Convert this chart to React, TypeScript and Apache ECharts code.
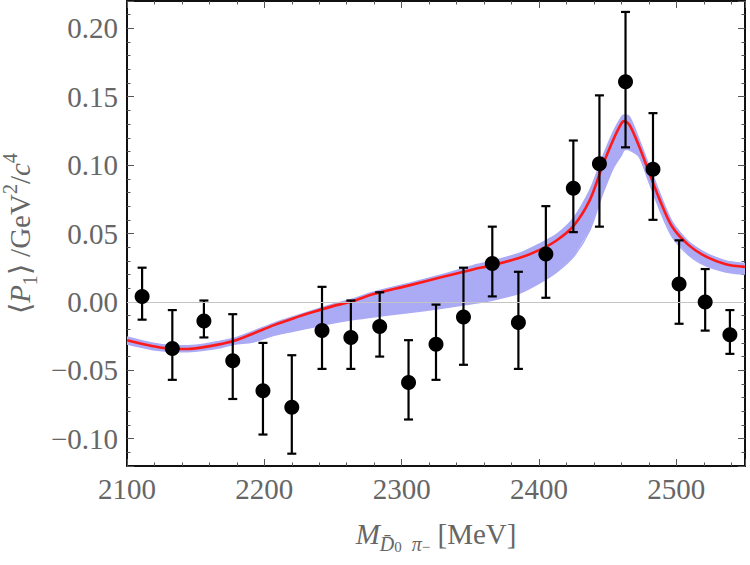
import React, { useEffect, useRef } from "react";
import * as echarts from "echarts";

// Data points (M in MeV, <P1>)
const pointX = [2111, 2133, 2156, 2177, 2199, 2220, 2242, 2263, 2284, 2305, 2325, 2345, 2366, 2385, 2405, 2425, 2444, 2463, 2483, 2502, 2521, 2539];
const pointY = [0.004, -0.034, -0.014, -0.043, -0.065, -0.077, -0.021, -0.026, -0.018, -0.059, -0.031, -0.011, 0.028, -0.015, 0.035, 0.083, 0.101, 0.161, 0.097, 0.013, 0.0, -0.024];
const errLow = [-0.013, -0.057, -0.026, -0.071, -0.097, -0.111, -0.049, -0.049, -0.040, -0.086, -0.057, -0.046, 0.004, -0.049, 0.003, 0.051, 0.055, 0.113, 0.060, -0.016, -0.021, -0.038];
const errHigh = [0.025, -0.006, 0.001, -0.009, -0.030, -0.039, 0.011, 0.001, 0.007, -0.028, -0.002, 0.025, 0.055, 0.022, 0.070, 0.118, 0.151, 0.212, 0.138, 0.045, 0.024, -0.006];

// Fit curve and its uncertainty band
const curveX = [2100, 2119, 2134, 2144, 2156, 2168, 2178, 2192, 2207, 2221, 2236, 2250, 2265, 2279, 2304, 2328, 2352, 2366, 2386, 2400, 2413, 2425, 2437, 2446, 2454, 2460, 2462, 2466, 2473, 2480, 2488, 2497, 2509, 2522, 2536, 2550];
const curveY = [-0.028, -0.0324, -0.0344, -0.0344, -0.0331, -0.0309, -0.0285, -0.0231, -0.017, -0.0121, -0.0073, -0.0031, 0.0007, 0.0056, 0.0117, 0.0178, 0.0237, 0.0268, 0.0322, 0.0378, 0.0451, 0.0554, 0.0744, 0.0988, 0.1183, 0.1305, 0.1322, 0.1293, 0.1134, 0.0951, 0.0744, 0.0549, 0.0415, 0.0329, 0.0276, 0.0256];
const bandLow = [-0.0309, -0.035, -0.0364, -0.0364, -0.0353, -0.0335, -0.0309, -0.0293, -0.0244, -0.0214, -0.0183, -0.0154, -0.0129, -0.011, -0.008, -0.0048, -0.0012, 0.0012, 0.0064, 0.0135, 0.0219, 0.0329, 0.0525, 0.0781, 0.0978, 0.1073, 0.111, 0.111, 0.1061, 0.0878, 0.0671, 0.0475, 0.0342, 0.0261, 0.0219, 0.0203];
const bandHigh = [-0.0256, -0.0302, -0.032, -0.032, -0.0309, -0.0287, -0.0266, -0.0214, -0.0155, -0.0108, -0.0061, -0.0017, 0.0023, 0.0071, 0.0133, 0.0195, 0.0265, 0.0298, 0.0356, 0.0422, 0.0495, 0.061, 0.0817, 0.1051, 0.1241, 0.1351, 0.1366, 0.1351, 0.1183, 0.1, 0.0793, 0.0585, 0.0439, 0.0354, 0.03, 0.0281];

const X_MIN = 2100;
const X_MAX = 2550;
const Y_MIN = -0.12;
const Y_MAX = 0.22;

const FONT = "Liberation Serif";
const GREY = "#666666";

const richBase = {
  a: { fontFamily: FONT, fontSize: 29, color: GREY, lineHeight: 40 },
  i: { fontFamily: FONT, fontSize: 29, color: GREY, lineHeight: 40, fontStyle: "italic" },
  sub: { fontFamily: FONT, fontSize: 20, color: GREY, lineHeight: 20, verticalAlign: "bottom" },
  subi: { fontFamily: FONT, fontSize: 20, color: GREY, lineHeight: 20, verticalAlign: "bottom", fontStyle: "italic" },
  subsup: { fontFamily: FONT, fontSize: 15, color: GREY, lineHeight: 36, verticalAlign: "bottom" },
  sup: { fontFamily: FONT, fontSize: 20, color: GREY, lineHeight: 26, verticalAlign: "top" },
};

function fmtY(v: number) {
  const s = Math.abs(v).toFixed(2);
  return v < -1e-9 ? "\u2212" + s : s;
}

export default function App() {
  const ref = useRef<HTMLDivElement>(null);
  useEffect(() => {
    if (!ref.current) return;
    const chart = echarts.init(ref.current, undefined, { renderer: "svg" });

    const tickCommon = {
      axisTick: { show: true, inside: true, length: 7, lineStyle: { color: "#555", width: 1 } },
      minorTick: { show: true, splitNumber: 5, length: 3.5, lineStyle: { color: "#555", width: 1 } },
      splitLine: { show: false },
      minorSplitLine: { show: false },
      axisLine: { show: true, onZero: false, lineStyle: { color: "#111", width: 2 } },
    };

    const curveData = curveX.map((x, i) => [x, curveY[i]]);
    const pts = pointX.map((x, i) => [x, pointY[i]]);
    const errs = pointX.map((x, i) => [x, errLow[i], errHigh[i]]);

    chart.setOption({
      animation: false,
      grid: { left: 127, right: 5, top: 1, bottom: 99, containLabel: false, outerBoundsMode: "none" },
      xAxis: [
        {
          type: "value",
          min: X_MIN,
          max: X_MAX,
          interval: 100,
          position: "bottom",
          ...tickCommon,
          axisLabel: {
            show: true,
            margin: 8,
            fontFamily: FONT,
            fontSize: 29,
            color: GREY,
            showMaxLabel: false,
            formatter: (v: number) => String(v),
          },
          name: "{i|M}{subi|D\u0304}{subsup|0}{sub|  }{subi|\u03C0}{subsup|\u2212}{a| [MeV]}",
          nameLocation: "middle",
          nameGap: 48,
          nameTextStyle: { rich: richBase },
        },
        {
          type: "value",
          min: X_MIN,
          max: X_MAX,
          interval: 100,
          position: "top",
          ...tickCommon,
          axisLabel: { show: false },
        },
      ],
      yAxis: [
        {
          type: "value",
          min: Y_MIN,
          max: Y_MAX,
          splitNumber: 6,
          position: "left",
          ...tickCommon,
          axisLabel: {
            show: true,
            margin: 9,
            fontFamily: FONT,
            fontSize: 29,
            color: GREY,
            showMinLabel: false,
            showMaxLabel: false,
            formatter: fmtY,
          },
          name: "{a|\u27E8}{i|P}{sub|1}{a|\u27E9 /GeV}{sup|2}{a|/}{i|c}{sup|4}",
          nameLocation: "middle",
          nameRotate: 90,
          nameGap: 86,
          nameTextStyle: { rich: richBase },
        },
        {
          type: "value",
          min: Y_MIN,
          max: Y_MAX,
          splitNumber: 6,
          position: "right",
          ...tickCommon,
          axisLabel: { show: false },
        },
      ],
      series: [
        {
          type: "line",
          data: [],
          z: 1,
          markLine: {
            silent: true,
            symbol: "none",
            label: { show: false },
            lineStyle: { color: "#c4c4c4", width: 1, type: "solid" },
            data: [{ yAxis: 0 }],
          },
        },
        {
          type: "custom",
          data: [[2300, 0]],
          z: 2,
          silent: true,
          renderItem: (params: any, api: any) => {
            const upper: number[][] = curveX.map((x, i) => api.coord([x, bandHigh[i]]));
            const lower: number[][] = curveX.map((x, i) => api.coord([x, bandLow[i]])).reverse();
            return {
              type: "group",
              children: [
                {
                  type: "polygon",
                  shape: { points: upper.concat(lower) },
                  style: { fill: "#abaaf5", stroke: "none" },
                },
                {
                  type: "polyline",
                  shape: { points: upper, smooth: 0.3 },
                  style: { stroke: "#abaaf5", lineWidth: 1.5, fill: "none" },
                },
                {
                  type: "polyline",
                  shape: { points: lower, smooth: 0.3 },
                  style: { stroke: "#abaaf5", lineWidth: 1.5, fill: "none" },
                },
              ],
            };
          },
        },
        {
          type: "line",
          data: curveData,
          symbol: "none",
          smooth: 0.3,
          lineStyle: { color: "#ff1a1a", width: 2.6 },
          z: 3,
          silent: true,
        },
        {
          type: "custom",
          data: errs,
          z: 4,
          encode: { x: 0, y: [1, 2] },
          renderItem: (params: any, api: any) => {
            const x = api.value(0);
            const lo = api.coord([x, api.value(1)]);
            const hi = api.coord([x, api.value(2)]);
            const w = 4.5;
            const style = { stroke: "#000", lineWidth: 2.2 };
            return {
              type: "group",
              children: [
                { type: "line", shape: { x1: lo[0], y1: lo[1], x2: hi[0], y2: hi[1] }, style },
                { type: "line", shape: { x1: lo[0] - w, y1: lo[1], x2: lo[0] + w, y2: lo[1] }, style },
                { type: "line", shape: { x1: hi[0] - w, y1: hi[1], x2: hi[0] + w, y2: hi[1] }, style },
              ],
            };
          },
        },
        {
          type: "scatter",
          data: pts,
          symbol: "circle",
          symbolSize: 15,
          itemStyle: { color: "#000", opacity: 1 },
          z: 5,
        },
      ],
    });
    return () => chart.dispose();
  }, []);
  return (
    <div
      ref={ref}
      style={{ position: "absolute", left: 0, top: 0, width: 750, height: 565, background: "#fff" }}
    />
  );
}
